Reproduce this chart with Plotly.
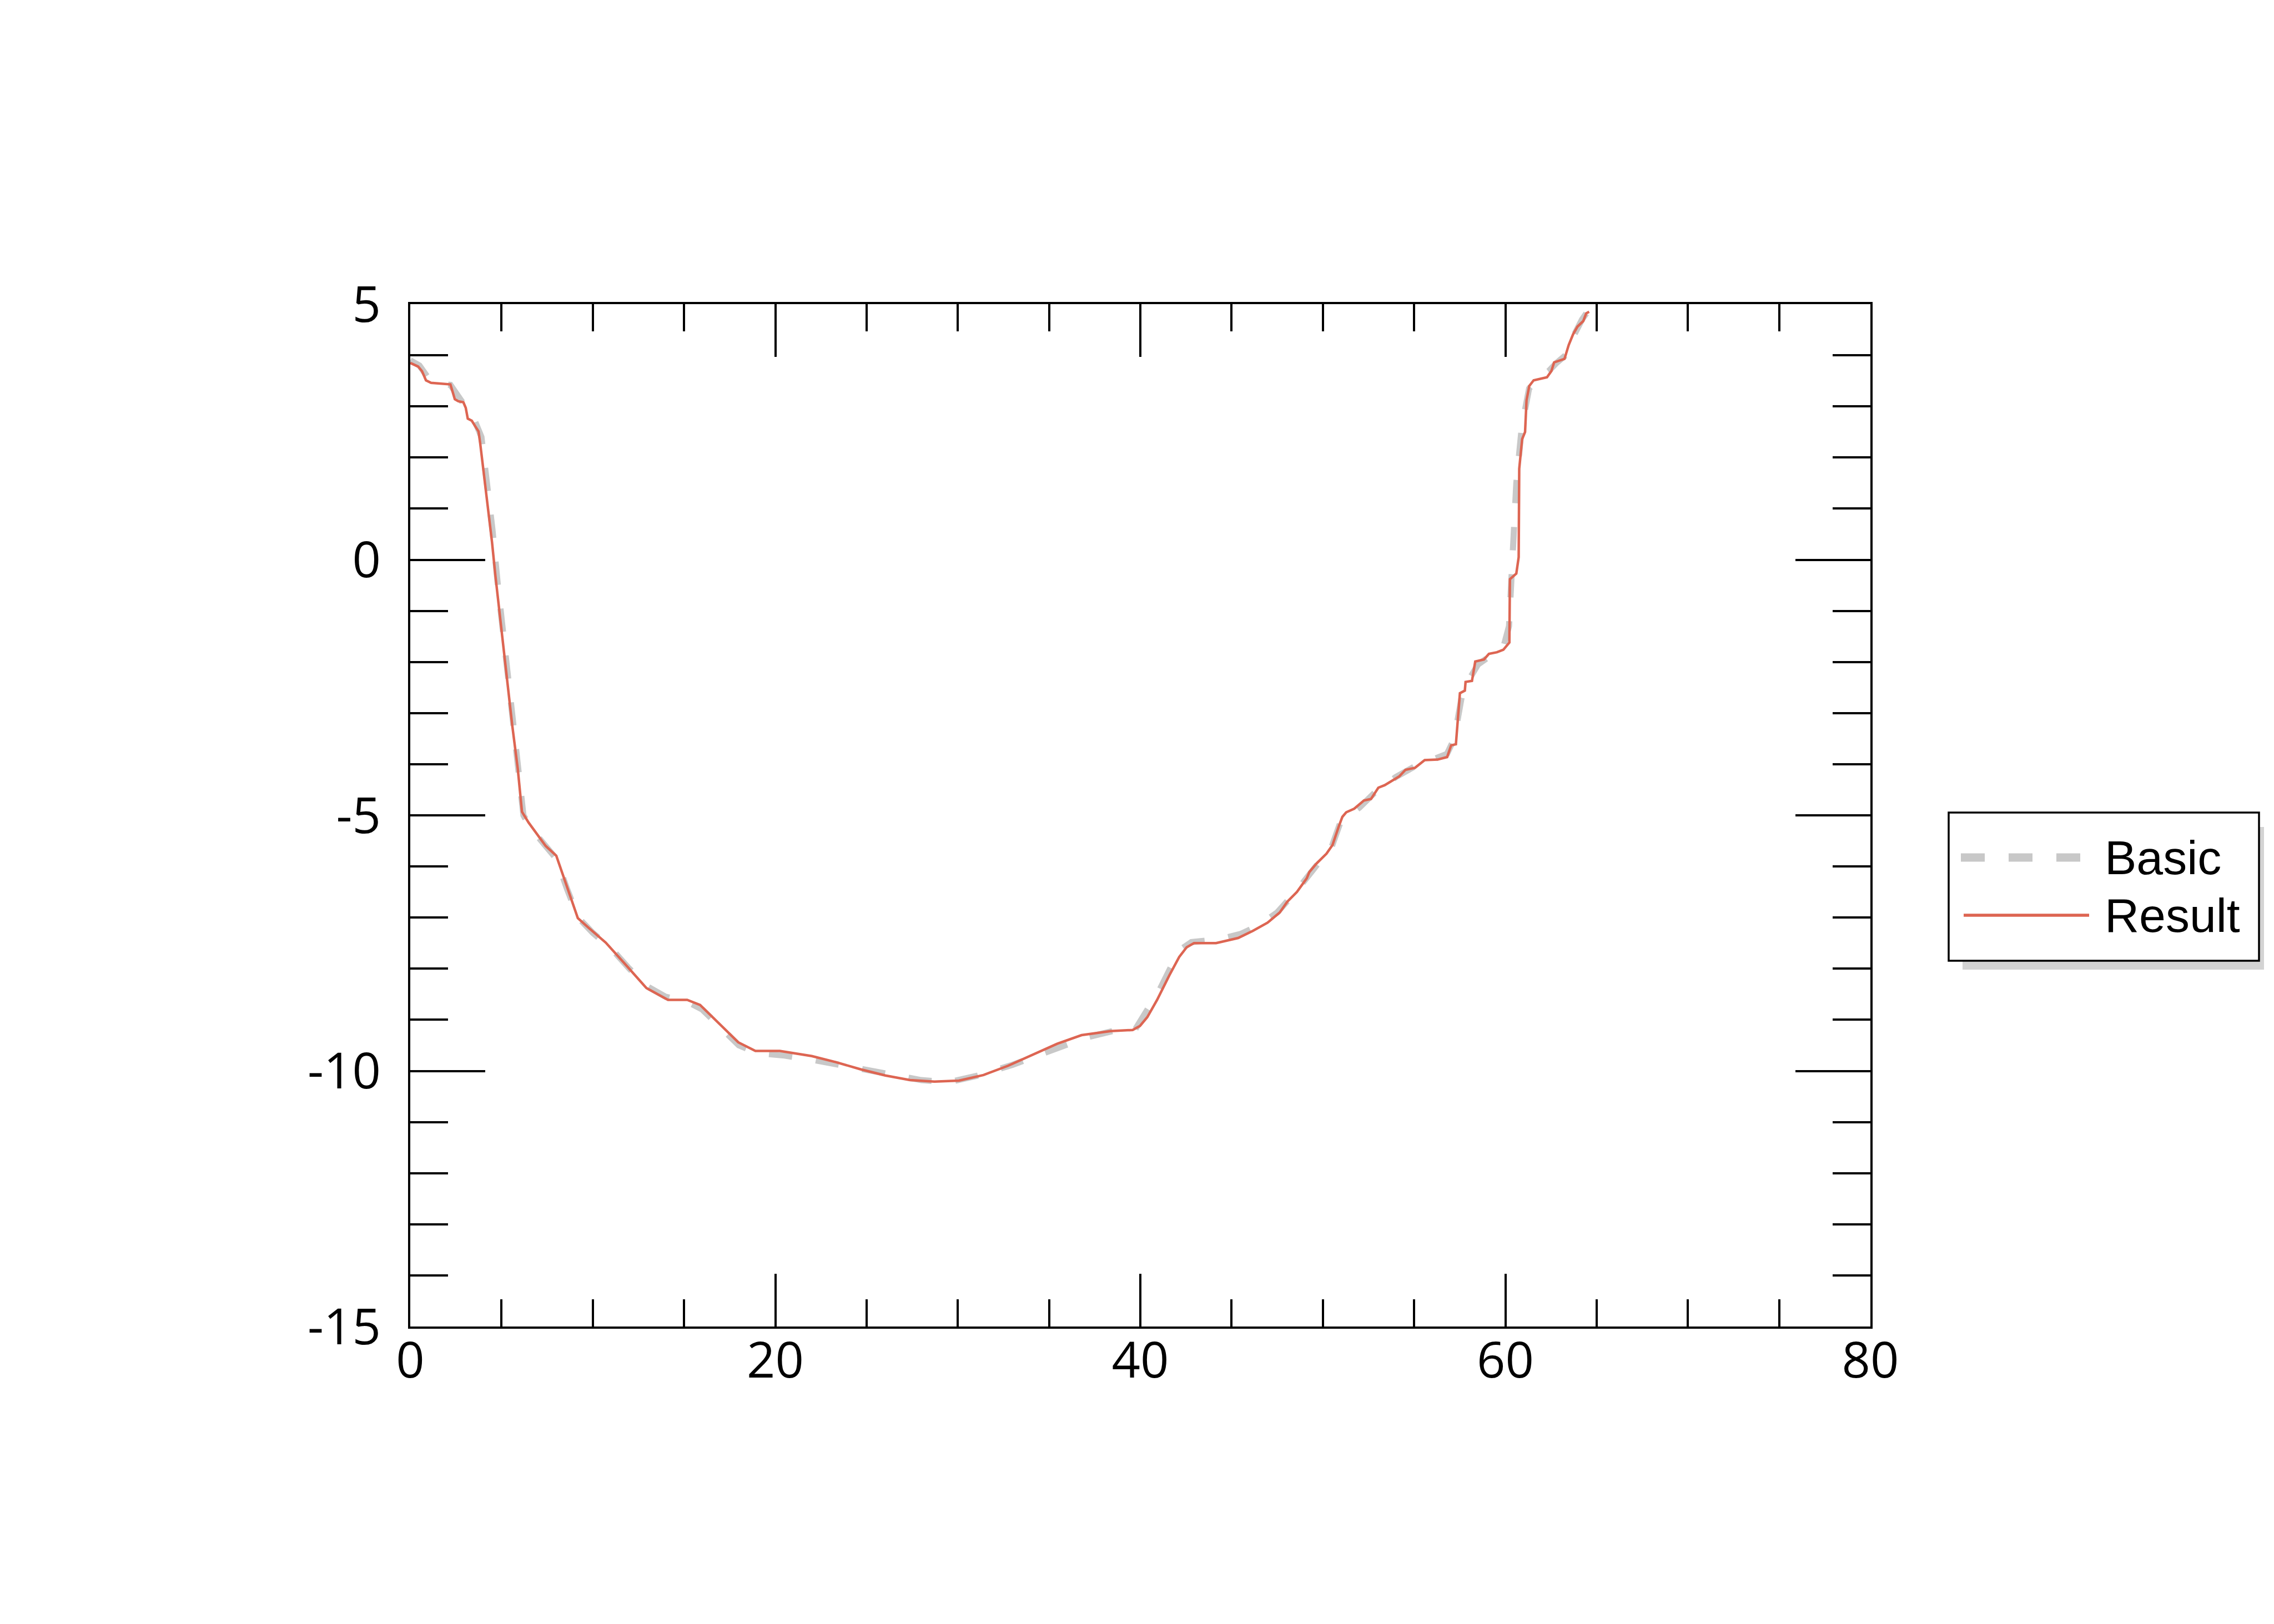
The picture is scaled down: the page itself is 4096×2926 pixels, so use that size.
import plotly.graph_objects as go

# ---------------- data ----------------
result_x = [0.0, 0.43, 0.64, 0.86, 1.14, 1.65, 2.2, 2.44, 2.63, 2.91, 3.04, 3.15, 3.37, 3.56, 3.74,
            3.83, 4.02, 4.20, 4.48, 4.66, 4.88, 5.59, 5.89, 6.12, 6.48, 7.42, 8.0, 8.59, 9.18,
            9.77, 10.71, 11.77, 12.94, 14.12, 15.17, 15.88, 17.06, 17.97, 18.91, 20.25, 22.0,
            23.34, 24.69, 26.03, 27.38, 28.72, 30.06, 31.41, 32.75, 34.10, 35.44, 36.78, 38.37,
            39.58, 39.98, 40.38, 40.92, 41.59, 42.13, 42.54, 42.94, 44.15, 45.36, 46.16, 46.97,
            47.64, 48.05, 48.58, 49.12, 49.26, 49.66, 50.2, 50.53, 50.87, 51.07, 51.28, 51.72,
            52.25, 52.64, 53.04, 53.39, 54.18, 54.53, 55.05, 55.58, 56.28, 56.81, 57.03, 57.29,
            57.51, 57.78, 57.82, 58.17, 58.35, 58.83, 59.10, 59.54, 59.89, 60.22, 60.25, 60.60,
            60.73, 60.76, 60.92, 61.08, 61.16, 61.31, 61.55, 62.28, 62.52, 62.67, 63.24, 63.47,
            63.71, 63.95, 64.27, 64.43, 64.59]
result_y = [3.85, 3.78, 3.69, 3.51, 3.46, 3.44, 3.43, 3.14, 3.10, 3.08, 2.97, 2.76, 2.72, 2.61, 2.51,
            2.28, 1.73, 1.18, 0.34, -0.30, -1.0, -3.25, -4.09, -4.93, -5.14, -5.60, -5.79, -6.40, -7.01,
            -7.20, -7.49, -7.91, -8.38, -8.61, -8.61, -8.71, -9.13, -9.44, -9.61, -9.61, -9.71,
            -9.83, -9.97, -10.09, -10.18, -10.21, -10.19, -10.08, -9.90, -9.68, -9.47, -9.30, -9.22,
            -9.20, -9.12, -8.95, -8.61, -8.13, -7.77, -7.58, -7.50, -7.50, -7.40, -7.26, -7.10,
            -6.90, -6.69, -6.50, -6.23, -6.11, -5.94, -5.75, -5.58, -5.22, -5.03, -4.94, -4.87,
            -4.71, -4.68, -4.46, -4.41, -4.24, -4.11, -4.07, -3.92, -3.91, -3.86, -3.63, -3.61,
            -2.61, -2.56, -2.39, -2.37, -1.99, -1.95, -1.84, -1.81, -1.76, -1.62, -0.38, -0.27,
            0.05, 1.78, 2.36, 2.50, 3.12, 3.40, 3.51, 3.57, 3.69, 3.86, 3.93, 4.20,
            4.41, 4.56, 4.67, 4.82, 4.85]

basic_x = [0.0, 0.5, 1.0, 1.5, 2.2, 2.6, 3.0, 3.5, 3.9, 4.2, 4.5, 4.8, 5.2, 5.6, 5.95, 6.2, 6.6,
           7.4, 8.0, 8.6, 9.2, 10.0, 11.0, 12.0, 13.0, 14.0, 15.2, 16.0, 17.0, 18.0, 19.0, 20.5,
           22.0, 24.0, 26.0, 28.0, 29.5, 31.0, 33.0, 35.0, 37.0, 38.5, 39.7, 40.3, 41.0, 41.7,
           42.3, 42.8, 44.4, 45.5, 46.5, 47.5, 48.5, 49.5, 50.5, 51.0, 52.0, 53.0, 54.0, 55.0,
           56.0, 56.8, 57.2, 57.6, 58.0, 58.5, 59.3, 59.9, 60.2, 60.4, 60.6, 60.9, 61.3, 61.8,
           62.4, 62.8, 63.3, 63.7, 64.2, 64.6]
basic_y = [3.9, 3.8, 3.55, 3.45, 3.42, 3.2, 3.0, 2.75, 2.4, 1.6, 0.6, -0.5, -1.8, -3.2, -4.4, -5.0, -5.25,
           -5.6, -5.85, -6.45, -7.0, -7.3, -7.6, -8.0, -8.35, -8.55, -8.65, -8.8, -9.15, -9.5, -9.65, -9.7,
           -9.78, -9.92, -10.07, -10.18, -10.22, -10.1, -9.88, -9.6, -9.35, -9.22, -9.2, -8.85, -8.45, -7.95,
           -7.6, -7.48, -7.42, -7.32, -7.15, -6.9, -6.5, -6.05, -5.6, -5.1, -4.85, -4.5, -4.25, -4.05,
           -3.92, -3.8, -3.5, -2.7, -2.35, -2.05, -1.85, -1.7, -1.3, 0.0, 1.5, 2.6, 3.35, 3.55,
           3.7, 3.85, 4.0, 4.35, 4.7, 4.9]

series_names = ["Basic", "Result"]
x_ticks = [0, 20, 40, 60, 80]
y_ticks = [-15, -10, -5, 0, 5]

GREY = "#c8c8c8"
RED = "#dd6552"

W, H = 4096, 2926
L, R, T, B = 731, 3361, 540, 2382


def px(xp):
    return (xp - L) / (R - L)


def py(yp):
    return (B - yp) / (B - T)


fig = go.Figure()
fig.add_trace(go.Scatter(x=basic_x, y=basic_y, mode="lines", name=series_names[0],
                         line=dict(color=GREY, width=11, dash="42px,43px"),
                         showlegend=False))
fig.add_trace(go.Scatter(x=result_x, y=result_y, mode="lines", name=series_names[1],
                         line=dict(color=RED, width=4.5),
                         showlegend=False))

tick_font = dict(family="Open Sans", size=90, color="black")
fig.update_xaxes(range=[0, 80], tickvals=x_ticks, ticktext=[str(v) for v in x_ticks],
                 ticks="inside", ticklen=95, tickwidth=4, tickcolor="black",
                 showline=True, linewidth=4, linecolor="black", mirror="ticks",
                 showgrid=False, zeroline=False, tickfont=tick_font,
                 ticklabelstandoff=-20,
                 minor=dict(dtick=5, tick0=0, ticks="inside", ticklen=49, tickwidth=4,
                            tickcolor="black", showgrid=False))
fig.update_yaxes(range=[-15, 5], tickvals=y_ticks, ticktext=[str(v) for v in y_ticks],
                 ticks="inside", ticklen=135, tickwidth=4, tickcolor="black",
                 showline=True, linewidth=4, linecolor="black", mirror="ticks",
                 showgrid=False, zeroline=False, tickfont=tick_font,
                 ticklabelstandoff=31,
                 minor=dict(dtick=1, tick0=0, ticks="inside", ticklen=68, tickwidth=4,
                            tickcolor="black", showgrid=False))

# ---- legend drawn as shapes / text (box with drop shadow) ----
dx, dy = -5, -5
shapes = [
    dict(type="rect", xref="paper", yref="paper", x0=px(3532 + dx), x1=px(4075 + dx),
         y0=py(1744 + dy), y1=py(1487 + dy),
         fillcolor="#d3d3d3", line=dict(width=0), layer="above"),
    dict(type="rect", xref="paper", yref="paper", x0=px(3507 + dx), x1=px(4066 + dx),
         y0=py(1728 + dy), y1=py(1461 + dy),
         fillcolor="white", line=dict(color="black", width=3.5), layer="above"),
    dict(type="line", xref="paper", yref="paper", x0=px(3529 + dx), x1=px(3747 + dx),
         y0=py(1542 + dy), y1=py(1542 + dy),
         line=dict(color=GREY, width=15, dash="43px,43px"), layer="above"),
    dict(type="line", xref="paper", yref="paper", x0=px(3534 + dx), x1=px(3760 + dx),
         y0=py(1646 + dy), y1=py(1646 + dy),
         line=dict(color=RED, width=5.7), layer="above"),
]
leg_font = dict(family="Liberation Sans, Arial", size=86, color="black")
annotations = [
    dict(xref="paper", yref="paper", x=px(3786 + dx), y=py(1542 + dy), text=series_names[0],
         showarrow=False, xanchor="left", yanchor="middle", font=leg_font),
    dict(xref="paper", yref="paper", x=px(3786 + dx), y=py(1646 + dy), text=series_names[1],
         showarrow=False, xanchor="left", yanchor="middle", font=leg_font),
]

fig.update_layout(width=W, height=H, margin=dict(l=L, r=W - R, t=T, b=H - B, pad=0),
                  paper_bgcolor="white", plot_bgcolor="white", showlegend=False,
                  shapes=shapes, annotations=annotations)

fig.write_html("out.html")
